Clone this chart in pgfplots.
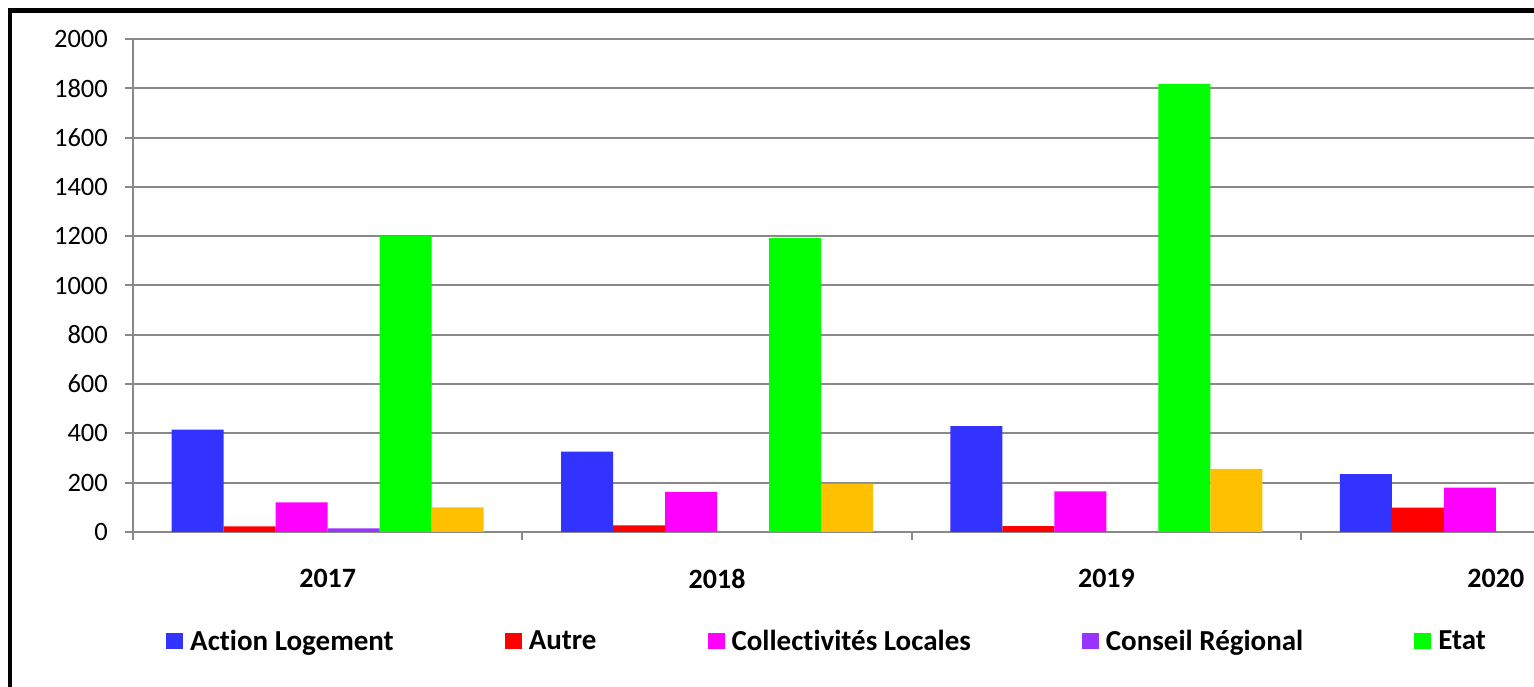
\documentclass[border=0pt]{standalone}
\usepackage{pgfplots}
\pgfplotsset{compat=1.18}
\usetikzlibrary{calc}
\usepackage{fontspec}
\setmainfont{Carlito}[Ligatures={NoCommon}]
\definecolor{cAL}{HTML}{3333FF}
\definecolor{cAU}{HTML}{FF0000}
\definecolor{cCL}{HTML}{FF00FF}
\definecolor{cCR}{HTML}{9933FF}
\definecolor{cET}{HTML}{00FF00}
\definecolor{cOR}{HTML}{FFC000}
\definecolor{cGR}{HTML}{898989}
\begin{document}
\begin{tikzpicture}
\begin{axis}[
  scale only axis, width=1401pt, height=493pt,
  xmin=0, xmax=3.598, ymin=0, ymax=2000,
  axis lines*=left,
  axis line style={cGR, line width=2pt},
  ytick={0,200,...,2000},
  ymajorgrids, grid style={cGR, line width=2pt},
  major tick length=8pt, tick align=outside,
  tick style={cGR, line width=2pt},
  xtick={0,1,2,3}, xticklabels={},
  extra x ticks={0.5,1.5,2.5,3.5},
  extra x tick labels={2017,2018,2019,2020},
  extra x tick style={major tick length=0pt, grid=none,
     tick label style={font=\fontsize{28}{32}\bfseries\selectfont, inner sep=0pt, yshift=-37pt}},
  /pgf/number format/assume math mode=true,
  /pgf/number format/1000 sep={},
  yticklabel style={font=\fontsize{26.5}{30}\selectfont, inner sep=0pt, xshift=-17pt},
  ybar=0pt, bar width=0.1335,
  legend columns=-1,
  legend image code/.code={\fill[#1] (0pt,-8pt) rectangle (17pt,8pt);},
  legend style={at={(0.02355,-0.2211)}, anchor=west, draw=none, fill=none, inner sep=0pt,
    font=\fontsize{29}{33}\bfseries\selectfont,
    nodes={inner sep=0pt},
    /tikz/every odd column/.style={column sep=7pt},
    /tikz/every even column/.style={column sep=111pt}},
  legend cell align=left,
]
\coordinate (LL) at (rel axis cs:0,0);
\addplot[draw=none, fill=cAL, bar shift=-0.33375] coordinates {(0.5,415) (1.5,326) (2.5,429) (3.5,235)};
\addlegendentry{Action Logement}
\addplot[draw=none, fill=cAU, bar shift=-0.20025] coordinates {(0.5,23) (1.5,27) (2.5,24) (3.5,99)};
\addlegendentry{Autre}
\addplot[draw=none, fill=cCL, bar shift=-0.06675] coordinates {(0.5,120) (1.5,163) (2.5,165) (3.5,180)};
\addlegendentry{Collectivités Locales}
\addplot[draw=none, fill=cCR, bar shift=0.06675] coordinates {(0.5,15) (1.5,0) (2.5,0)};
\addlegendentry{Conseil Régional}
\addplot[draw=none, fill=cET, bar shift=0.20025] coordinates {(0.5,1200) (1.5,1192) (2.5,1818)};
\addlegendentry{Etat}
\addplot[draw=none, fill=cOR, bar shift=0.33375, forget plot] coordinates {(0.5,100) (1.5,196) (2.5,256)};
\end{axis}
\coordinate (O) at ($(LL)+(-133pt,-155pt)$);
\draw[line width=4.5pt] ($(O)+(10pt,-10pt)$) -- ($(O)+(10pt,676.5pt)$) -- ($(O)+(1545pt,676.5pt)$);
\pgfresetboundingbox
\path[use as bounding box] (O) rectangle ($(O)+(1534pt,687pt)$);
\end{tikzpicture}
\end{document}
